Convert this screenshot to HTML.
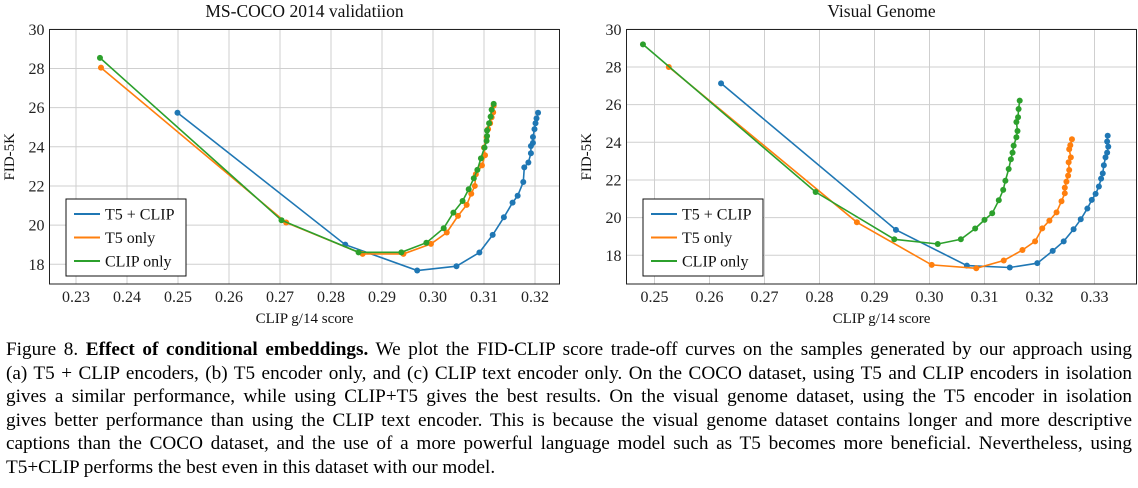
<!DOCTYPE html>
<html><head><meta charset="utf-8"><style>
body{margin:0;background:#fff;width:1138px;height:488px;overflow:hidden;position:relative;font-family:"Liberation Serif",serif;}
svg{position:absolute;left:0;top:0}
.cap{position:absolute;left:6px;width:1126px;font-size:19.2px;line-height:22px;text-align:justify;text-align-last:justify;white-space:nowrap;color:#000}
.cap.last{text-align-last:left}
</style></head><body>
<svg id="chart" width="1138" height="330" font-family="Liberation Serif, serif"></svg>
<div class="cap" style="top:339px">Figure 8. <b>Effect of conditional embeddings.</b> We plot the FID-CLIP score trade-off curves on the samples generated by our approach using</div>
<div class="cap" style="top:362.5px">(a) T5 + CLIP encoders, (b) T5 encoder only, and (c) CLIP text encoder only. On the COCO dataset, using T5 and CLIP encoders in isolation</div>
<div class="cap" style="top:386px">gives a similar performance, while using CLIP+T5 gives the best results. On the visual genome dataset, using the T5 encoder in isolation</div>
<div class="cap" style="top:409.5px">gives better performance than using the CLIP text encoder. This is because the visual genome dataset contains longer and more descriptive</div>
<div class="cap" style="top:433px">captions than the COCO dataset, and the use of a more powerful language model such as T5 becomes more beneficial. Nevertheless, using</div>
<div class="cap last" style="top:456.5px">T5+CLIP performs the best even in this dataset with our model.</div>
<script>
const seriesNames=["T5 + CLIP","T5 only","CLIP only"];
const colors=["#1f77b4","#ff7f0e","#2ca02c"];
const yTicks=[18,20,22,24,26,28,30];
const cocoXTicks=[0.23,0.24,0.25,0.26,0.27,0.28,0.29,0.30,0.31,0.32];
const vgXTicks=[0.25,0.26,0.27,0.28,0.29,0.30,0.31,0.32,0.33];
const cocoT5ClipX=[0.2499,0.2828,0.2969,0.3046,0.3091,0.3117,0.3139,0.3156,0.3166,0.3177,0.3179,0.3187,0.3192,0.3192,0.3196,0.3196,0.3199,0.3201,0.3203,0.3206];
const cocoT5ClipY=[25.74,19.0,17.68,17.9,18.6,19.5,20.4,21.15,21.5,22.2,22.95,23.2,23.67,24.04,24.2,24.5,24.9,25.2,25.45,25.74];
const cocoT5X=[0.2349,0.2712,0.2862,0.2942,0.2996,0.3027,0.3049,0.3066,0.3075,0.3082,0.3084,0.3096,0.3102,0.3100,0.3105,0.3108,0.3112,0.3115,0.3118,0.3119];
const cocoT5Y=[28.04,20.13,18.53,18.53,19.04,19.62,20.47,21.03,21.6,22.0,22.6,23.05,23.57,23.96,24.5,24.9,25.2,25.5,25.76,26.1];
const cocoClipX=[0.2347,0.2703,0.2854,0.2938,0.2987,0.3021,0.3040,0.3058,0.3070,0.3080,0.3087,0.3094,0.3101,0.3105,0.3106,0.3106,0.3110,0.3113,0.3115,0.3119];
const cocoClipY=[28.54,20.25,18.61,18.61,19.1,19.84,20.64,21.23,21.83,22.39,22.82,23.41,23.96,24.3,24.55,24.83,25.2,25.54,25.9,26.19];
const vgT5ClipX=[0.2621,0.2939,0.3068,0.3146,0.3196,0.3224,0.3244,0.3262,0.3275,0.3287,0.3295,0.3302,0.3308,0.3312,0.3315,0.3317,0.3320,0.3323,0.3325,0.3323,0.3324];
const vgT5ClipY=[27.13,19.35,17.45,17.35,17.58,18.23,18.74,19.38,19.91,20.48,20.94,21.26,21.65,22.07,22.35,22.78,23.2,23.45,23.77,24.04,24.35];
const vgT5X=[0.2526,0.2868,0.3004,0.3085,0.3135,0.3169,0.3192,0.3205,0.3218,0.3231,0.3240,0.3246,0.3246,0.3249,0.3252,0.3254,0.3253,0.3257,0.3254,0.3256,0.3259];
const vgT5Y=[28.0,19.75,17.49,17.31,17.72,18.28,18.74,19.43,19.84,20.28,20.87,21.29,21.59,21.91,22.23,22.53,22.94,23.2,23.63,23.84,24.16];
const vgClipX=[0.2479,0.2793,0.2936,0.3015,0.3057,0.3083,0.3100,0.3114,0.3126,0.3134,0.3138,0.3144,0.3148,0.3151,0.3153,0.3158,0.3160,0.3158,0.3161,0.3162,0.3164];
const vgClipY=[29.2,21.36,18.85,18.6,18.85,19.42,19.88,20.23,20.92,21.47,21.96,22.58,23.1,23.45,23.82,24.27,24.6,25.08,25.33,25.77,26.21];

const NS="http://www.w3.org/2000/svg";
const svg=document.getElementById('chart');
function mk(tag,attrs,parent){const e=document.createElementNS(NS,tag);for(const k in attrs)e.setAttribute(k,attrs[k]);(parent||svg).appendChild(e);return e;}

function panel(cfg){
  const g=mk('g',{});
  
  
  const X=v=>cfg.x0px+(v-cfg.x0)*cfg.xs;
  const Y=v=>cfg.y30px+(30-v)*cfg.ys;
  cfg.xTicks.forEach(t=>{
    const l=mk('line',{x1:X(t),x2:X(t),y1:cfg.top,y2:cfg.bottom,stroke:'#cfcfcf','stroke-width':1},g);
    
    
    const tx=mk('text',{x:X(t),y:cfg.bottom+18,'font-size':16,'text-anchor':'middle',fill:'#222'},g);
    tx.textContent=t.toFixed(2);
    
    
  });
  yTicks.forEach(t=>{
    const l=mk('line',{x1:cfg.left,x2:cfg.right,y1:Y(t),y2:Y(t),stroke:'#cfcfcf','stroke-width':1},g);
    
    
    const tx=mk('text',{x:cfg.left-5,y:Y(t)+5.5,'font-size':16,'text-anchor':'end',fill:'#222'},g);
    tx.textContent=t;
    
    
  });
  const fr=mk('rect',{x:cfg.left,y:cfg.top,width:cfg.right-cfg.left,height:cfg.bottom-cfg.top,fill:'none',stroke:'#222','stroke-width':1},g);
  
  
  const ti=mk('text',{x:(cfg.left+cfg.right)/2,y:17,'font-size':17.5,'text-anchor':'middle',fill:'#111'},g);
  ti.textContent=cfg.title;
  
  
  const xt=mk('text',{x:(cfg.left+cfg.right)/2,y:323,'font-size':15,'text-anchor':'middle',fill:'#111'},g);
  xt.textContent='CLIP g/14 score';
  
  
  const yc=(cfg.top+cfg.bottom)/2;
  const yt=mk('text',{x:cfg.ylabX,y:yc,'font-size':15,'text-anchor':'middle',fill:'#111',transform:`rotate(-90 ${cfg.ylabX} ${yc})`},g);
  yt.textContent='FID-5K';
  
  
  cfg.series.forEach((s,i)=>{
    const pts=s[0].map((x,j)=>X(x).toFixed(1)+','+Y(s[1][j]).toFixed(1)).join(' ');
    const pl=mk('polyline',{points:pts,fill:'none',stroke:colors[i],'stroke-width':1.6},g);
    
    
    s[0].forEach((x,j)=>{
      const c=mk('circle',{cx:X(x),cy:Y(s[1][j]),r:3,fill:colors[i]},g);
      
      
    });
  });
  const lg=mk('g',{},g);
  
  
  mk('rect',{x:cfg.legX,y:199,width:cfg.legW,height:77,fill:'#fff',stroke:'#111','stroke-width':1},lg);
  seriesNames.forEach((n,i)=>{
    const yy=214+i*23.5;
    mk('line',{x1:cfg.legX+8,x2:cfg.legX+34,y1:yy,y2:yy,stroke:colors[i],'stroke-width':2},lg);
    const t=mk('text',{x:cfg.legX+39,y:yy+5.5,'font-size':16,fill:'#111'},lg);
    t.textContent=n;
    
    
  });
}
panel({name:'coco-chart',title:'MS-COCO 2014 validatiion',left:49.5,right:559.5,top:29.5,bottom:284,
  x0:0.23,x0px:76,xs:5100,y30px:29.3,ys:19.58,xTicks:cocoXTicks,ylabX:14,legX:66,legW:120,
  series:[[cocoT5ClipX,cocoT5ClipY],[cocoT5X,cocoT5Y],[cocoClipX,cocoClipY]]});
panel({name:'visual-genome-chart',title:'Visual Genome',left:626.5,right:1136.5,top:29.5,bottom:284,
  x0:0.25,x0px:654.5,xs:5500,y30px:29.3,ys:18.83,xTicks:vgXTicks,ylabX:591,legX:643,legW:120,
  series:[[vgT5ClipX,vgT5ClipY],[vgT5X,vgT5Y],[vgClipX,vgClipY]]});
</script>
</body></html>
